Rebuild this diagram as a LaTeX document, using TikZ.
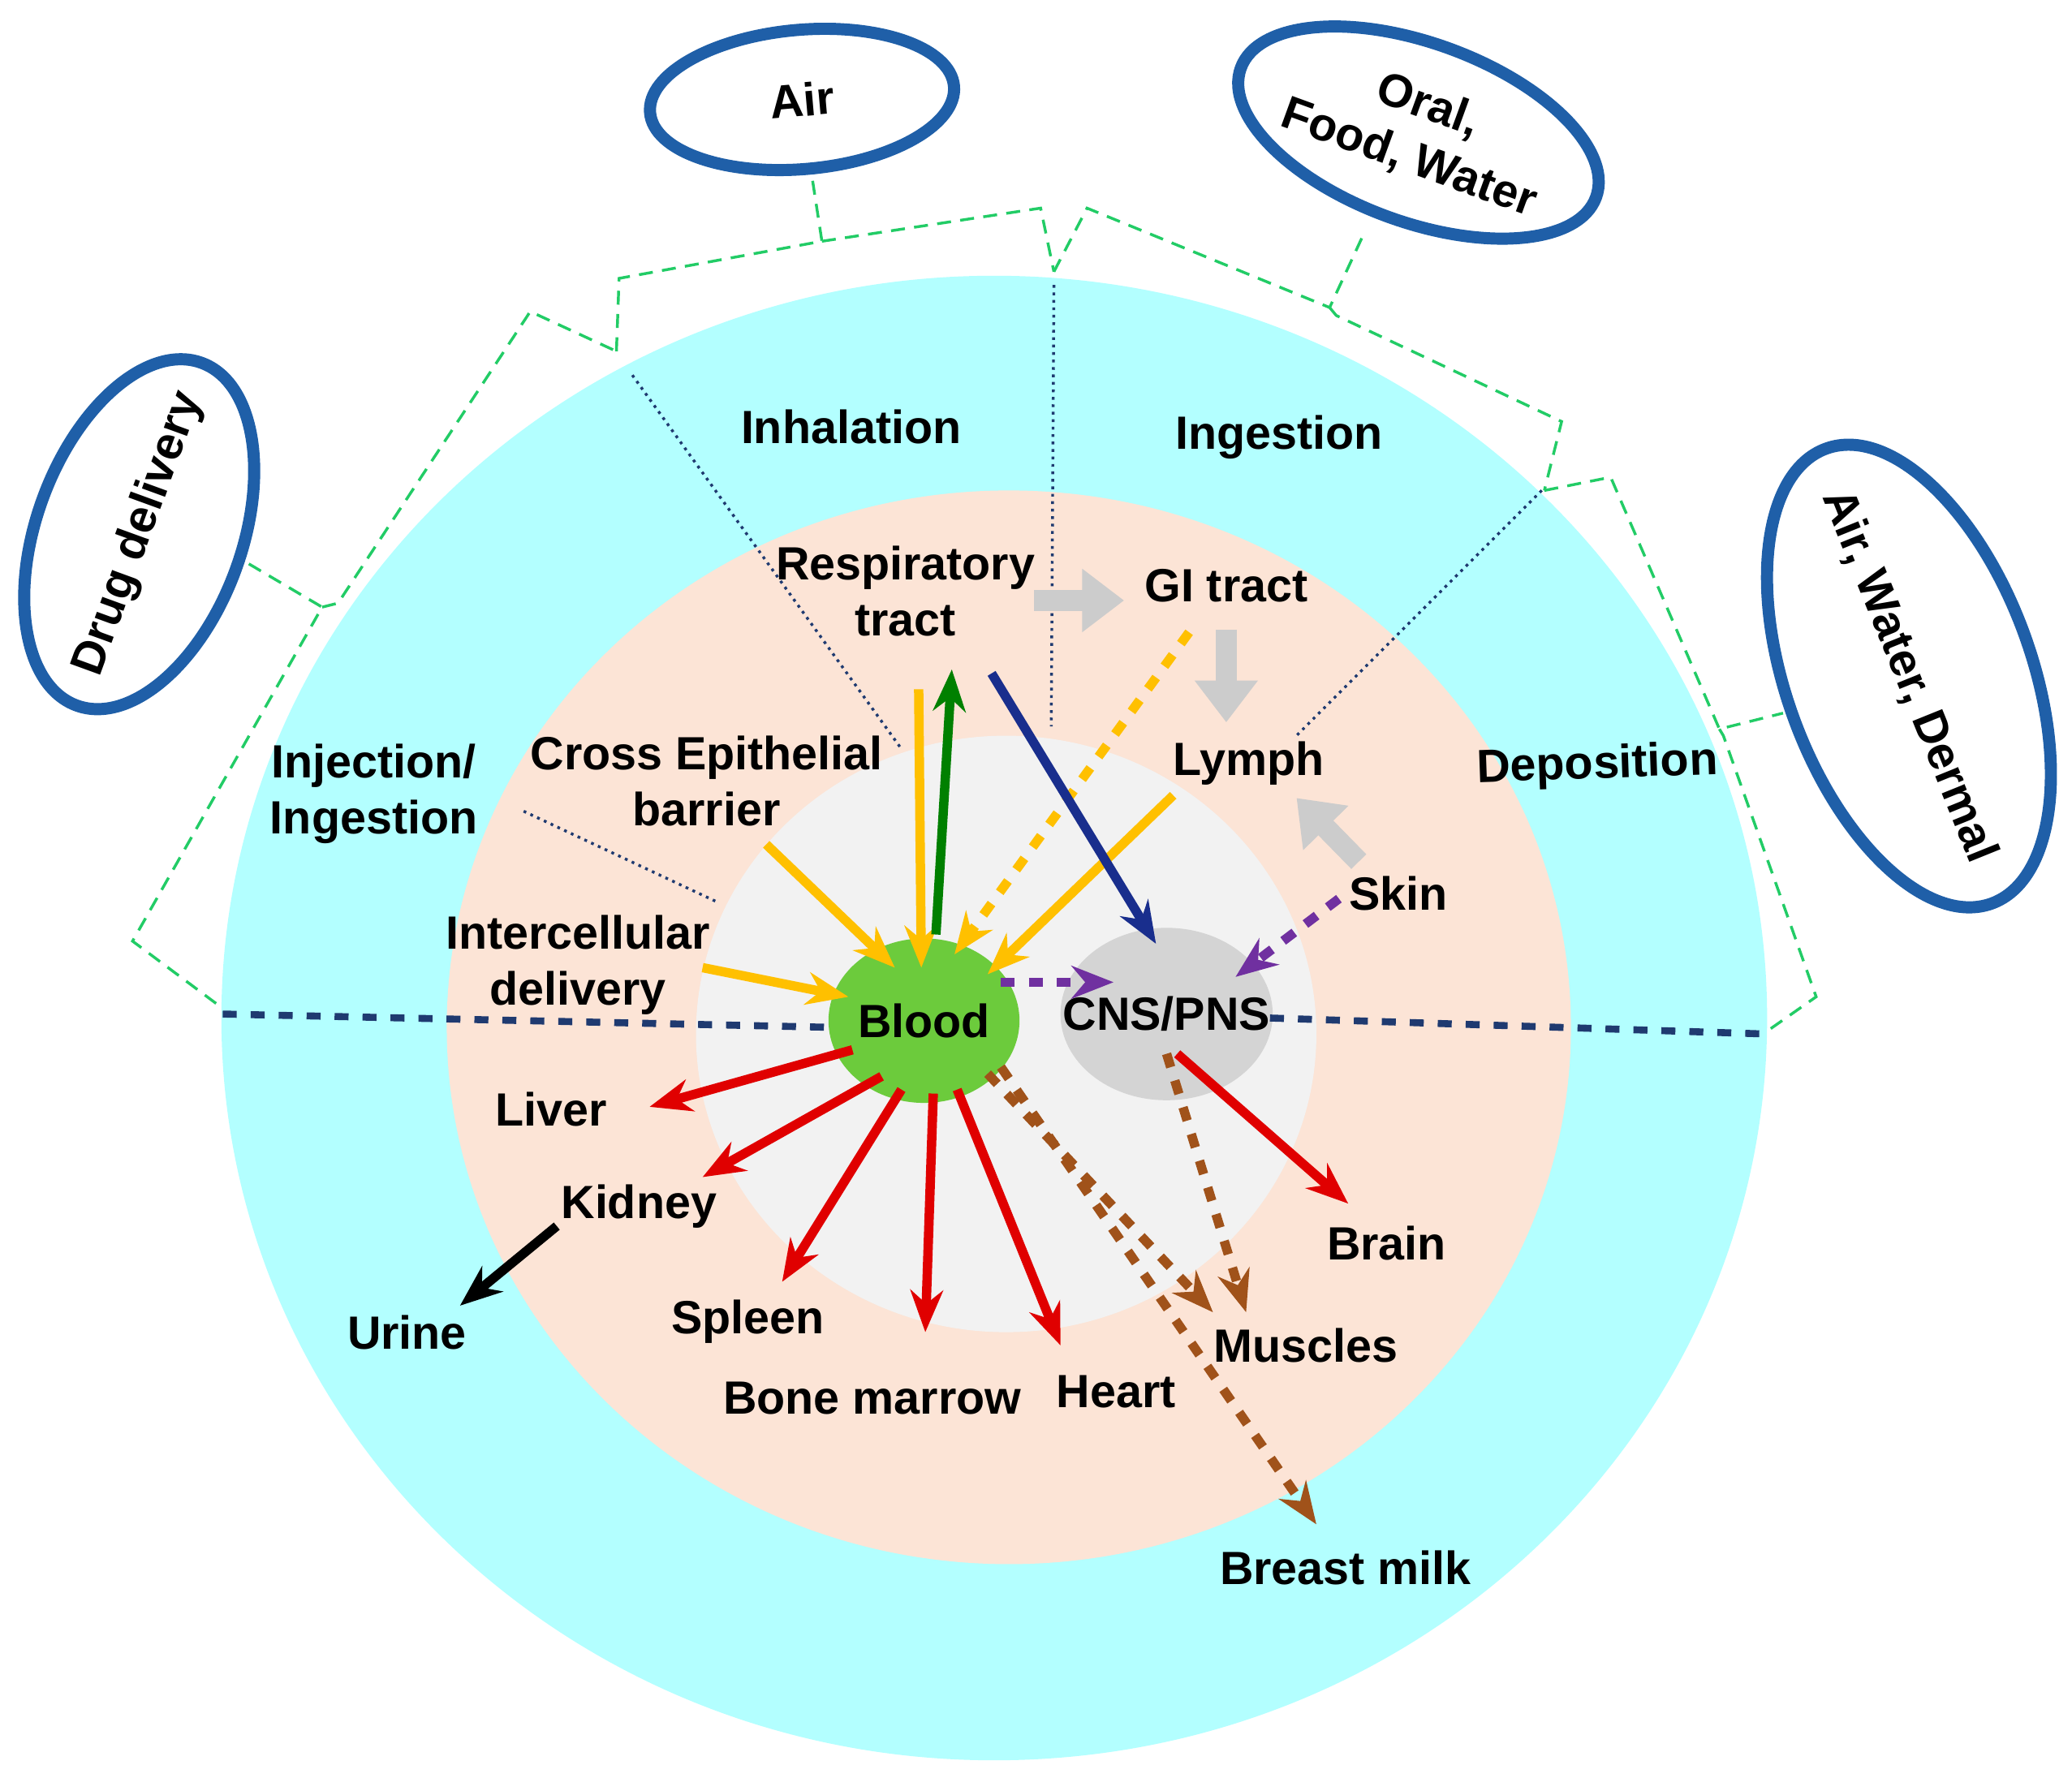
\documentclass[tikz,border=0pt]{standalone}
\usepackage{fontspec}
\setmainfont{Liberation Sans}
\usetikzlibrary{arrows.meta,shapes.geometric}
\definecolor{outerc}{HTML}{B3FFFF}
\definecolor{peach}{HTML}{FCE4D6}
\definecolor{inner}{HTML}{F2F2F2}
\definecolor{bloodc}{HTML}{6CCB3C}
\definecolor{cnsc}{HTML}{D4D4D4}
\definecolor{ringblue}{HTML}{1F5FA8}
\definecolor{bracec}{HTML}{22CC66}
\definecolor{yel}{HTML}{FFC000}
\definecolor{redc}{HTML}{E00000}
\definecolor{brn}{HTML}{A0521A}
\definecolor{purp}{HTML}{7030A0}
\definecolor{navy}{HTML}{1F3A70}
\tikzset{
  lbl/.style={font=\fontsize{10}{12}\selectfont\bfseries, align=center, inner sep=1pt},
  src/.style={draw=ringblue, line width=2.6pt, ellipse, fill=white},
  brace/.style={draw=bracec, densely dashed, line width=0.6pt},
  guide/.style={draw=navy, densely dotted, line width=0.6pt},
  arr/.style={-{Stealth[length=9pt,width=7pt]}, line width=2pt},
  garr/.style={-{Triangle[length=9pt,width=13pt]}, line width=4.5pt, draw=black!20},
}
\begin{document}
\begin{tikzpicture}[x=0.01cm,y=-0.01cm]
\useasboundingbox (0,0) rectangle (1563,1341);
% zones
\fill[outerc] (750,768) ellipse [x radius=583, y radius=560];
\fill[peach] (761,775) ellipse [x radius=424, y radius=405];
\fill[inner] (759,780) ellipse [x radius=234, y radius=225];
\node[ellipse, fill=bloodc, minimum width=1.44cm, minimum height=1.24cm] (blood) at (697,770) {};
\node[ellipse, fill=cnsc, minimum width=1.6cm, minimum height=1.3cm] (cns) at (880,765) {};
% dividing line
\draw[navy, dashed, line width=1.5pt] (168,765) -- (625,775);
\draw[navy, dashed, line width=1.5pt] (958,768) -- (1330,780);
% guides
\draw[guide] (477,283) -- (680,565);
\draw[guide] (795,215) -- (793,548);
\draw[guide] (1163,370) -- (978,555);
\draw[guide] (395,612) -- (540,680);
% braces
\draw[brace] (465,265) -- (467,210) -- (620,182) -- (612,130);
\draw[brace] (620,182) -- (785,157) -- (795,205);
\draw[brace] (795,205) -- (820,157) -- (1003,232) -- (1028,178);
\draw[brace] (1003,232) -- (1008,238) -- (1178,318) -- (1165,370);
\draw[brace] (1165,370) -- (1215,360) -- (1297,550) -- (1345,538);
\draw[brace] (1297,550) -- (1300,555) -- (1370,752) -- (1330,780);
\draw[brace] (163,757) -- (100,710) -- (243,458) -- (182,422);
\draw[brace] (243,458) -- (255,455) -- (400,235) -- (465,265);
% source ellipses
\node[src, minimum width=2.3cm, minimum height=1.05cm, rotate=5] (air) at (605,75) {};
\node[lbl, rotate=5] at (air) {Air};
\node[src, minimum width=2.85cm, minimum height=1.35cm, rotate=-20] (oral) at (1070,100) {};
\node[lbl, rotate=-20] at (oral) {Oral,\\Food, Water};
\node[src, minimum width=2.75cm, minimum height=1.55cm, rotate=70] (drug) at (105,403) {};
\node[lbl, rotate=70] at (drug) {Drug delivery};
\node[src, minimum width=3.65cm, minimum height=1.85cm, rotate=-70] (awd) at (1440,510) {};
\node[lbl, rotate=-68] at (awd) {Air, Water, Dermal};
% labels
\node[lbl] at (642,322) {Inhalation};
\node[lbl] at (965,330) {Ingestion};
\node[lbl, rotate=2] at (1205,578) {Deposition};
\node[lbl] (resp) at (683,446) {Respiratory\\tract};
\node[lbl] (gi) at (925,442) {GI tract};
\node[lbl] (lymph) at (942,576) {Lymph};
\node[lbl] (skin) at (1055,674) {Skin};
\node[lbl] (cross) at (533,589) {Cross Epithelial\\barrier};
\node[lbl] at (282,599) {Injection/\\Ingestion};
\node[lbl] (inter) at (436,728) {Intercellular\\delivery};
\node[lbl] at (blood) {Blood};
\node[lbl] at (cns) {CNS/PNS};
\node[lbl] (liver) at (416,837) {Liver};
\node[lbl] (kidney) at (482,910) {Kidney};
\node[lbl] (urine) at (307,1005) {Urine};
\node[lbl] (spleen) at (564,997) {Spleen};
\node[lbl] (bone) at (658,1055) {Bone marrow};
\node[lbl] (heart) at (842,1050) {Heart};
\node[lbl] (muscles) at (985,1015) {Muscles};
\node[lbl] (brain) at (1046,938) {Brain};
\node[lbl] (milk) at (1015,1183) {Breast milk};
% gray flow arrows
\draw[garr] (780,453) -- (848,453);
\draw[garr] (925,475) -- (925,545);
\draw[garr] (1025,650) -- (978,602);
% into blood
\draw[arr, yel] (693,520) -- (695,730);
\draw[arr, yel] (578,637) -- (675,730);
\draw[arr, yel] (530,730) -- (640,752);
\draw[arr, yel] (885,600) -- (745,735);
\draw[arr, yel, dashed] (897,477) -- (720,720);
\draw[arr, green!50!black] (706,705) -- (718,505);
\draw[arr, navy!80!blue] (748,508) -- (872,712);
\draw[arr, purp, dashed] (755,741) -- (840,741);
\draw[arr, purp, dashed] (1010,678) -- (932,737);
% out of blood
\draw[arr, redc] (643,792) -- (490,835);
\draw[arr, redc] (665,812) -- (530,888);
\draw[arr, redc] (680,822) -- (590,967);
\draw[arr, redc] (704,825) -- (698,1005);
\draw[arr, redc] (722,822) -- (800,1015);
\draw[arr, redc] (888,795) -- (1017,908);
\draw[arr, black] (420,925) -- (347,985);
\draw[arr, brn, dashed] (745,810) -- (915,990);
\draw[arr, brn, dashed] (880,795) -- (940,990);
\draw[arr, brn, dashed] (755,805) -- (993,1150);
\end{tikzpicture}
\end{document}
